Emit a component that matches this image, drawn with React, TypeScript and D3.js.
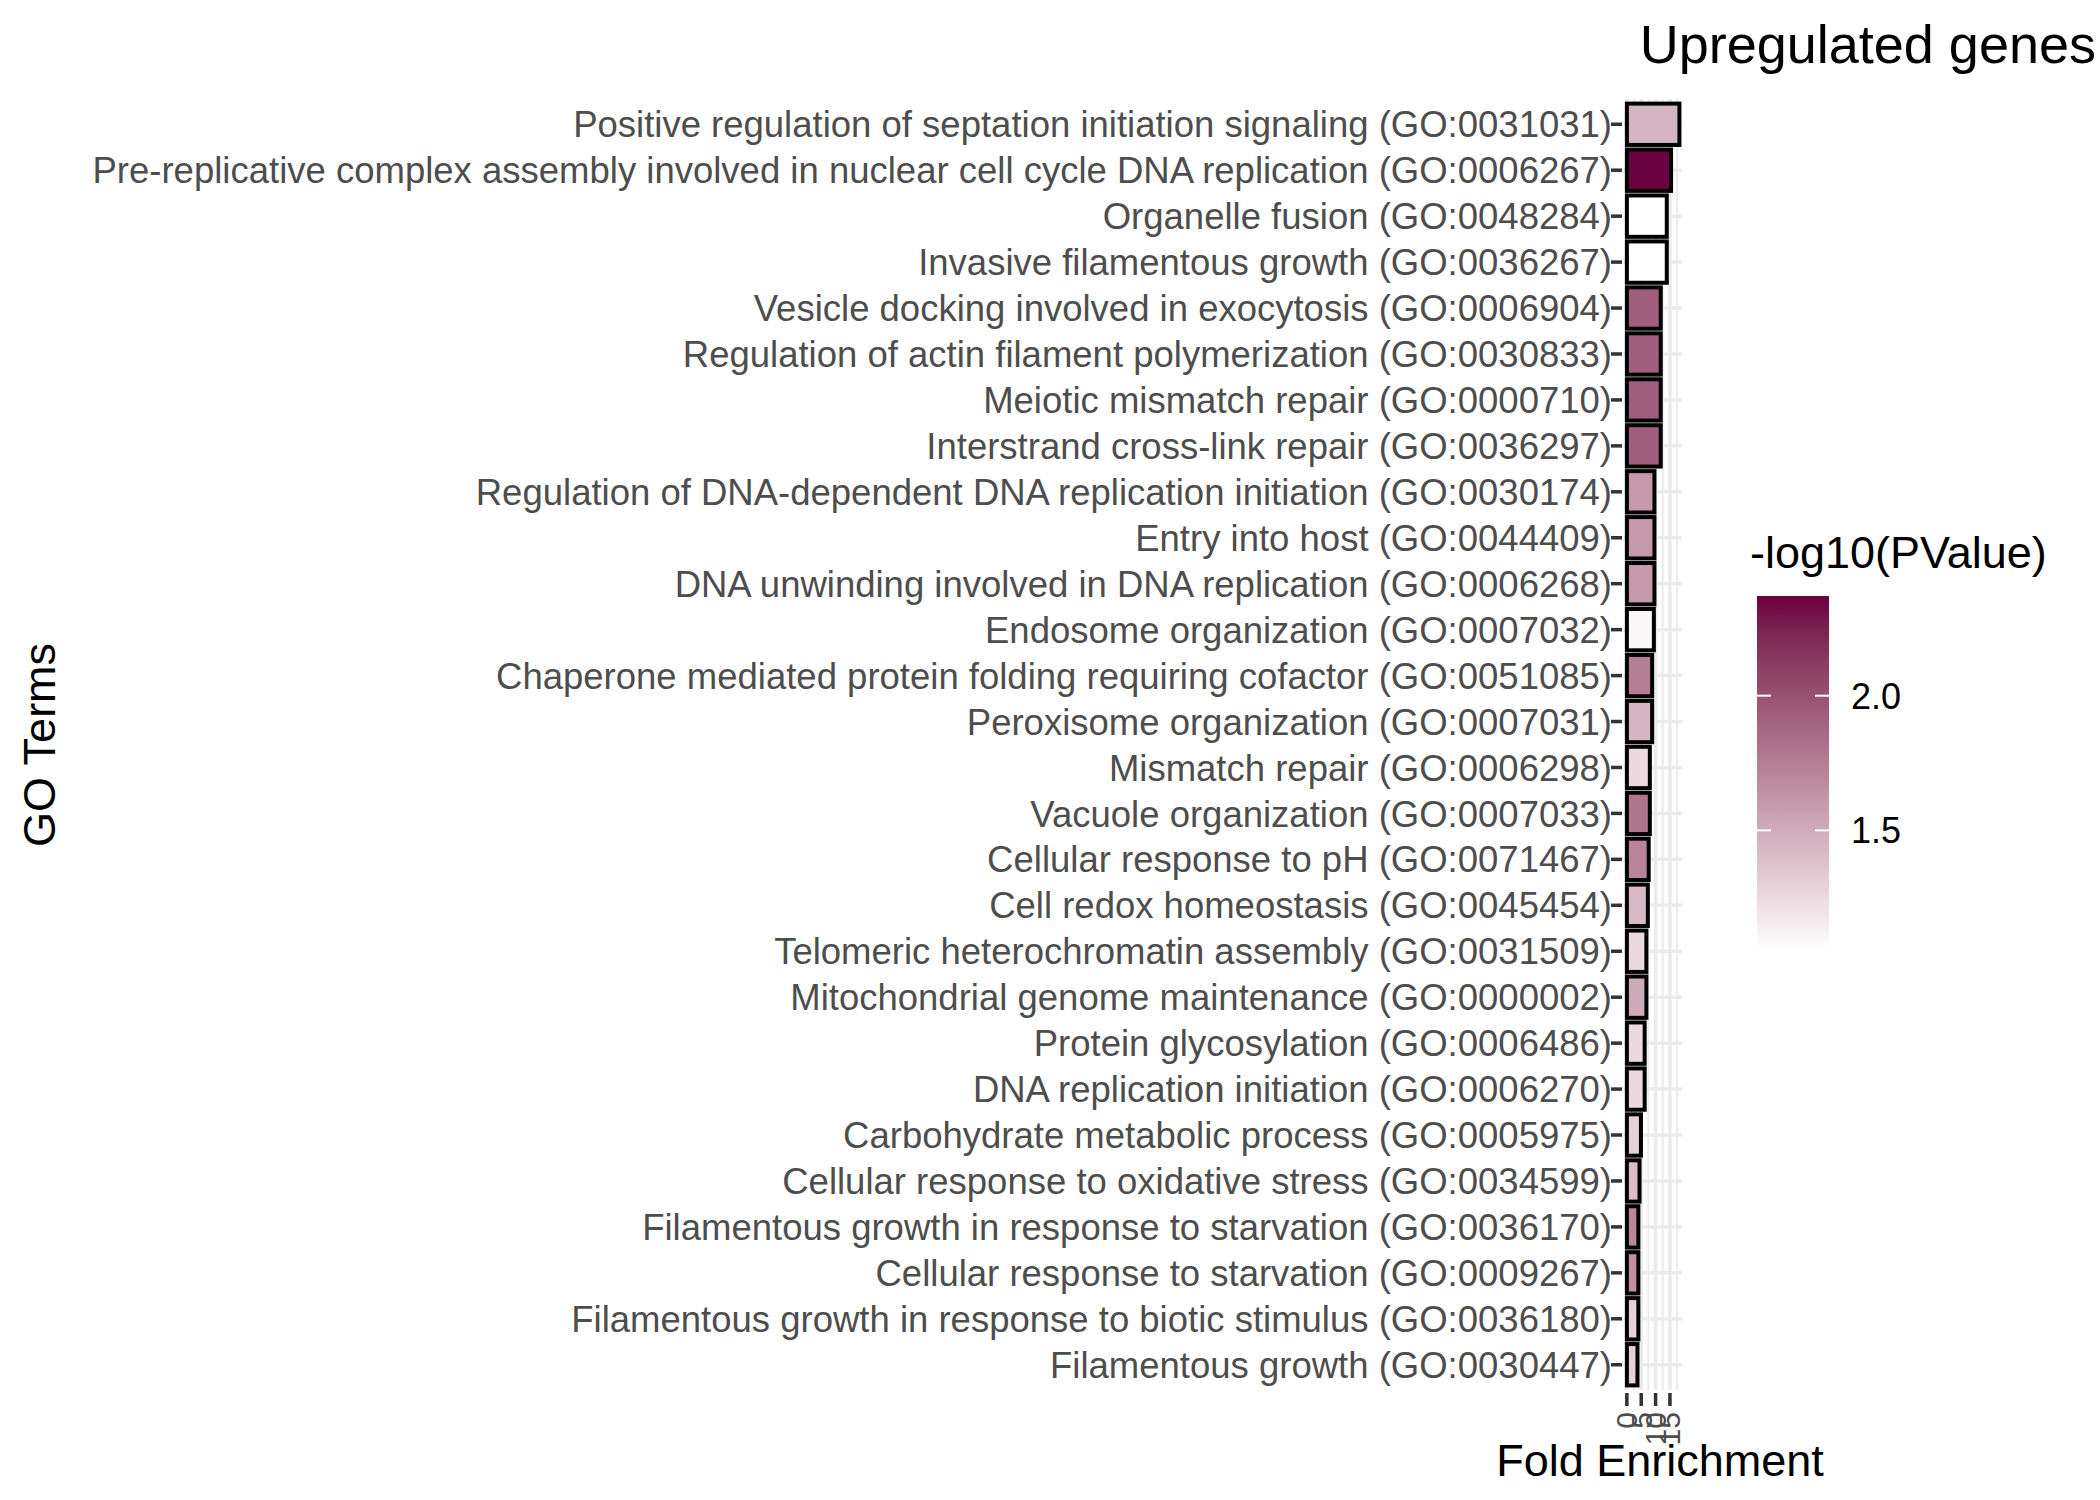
import React from "react";
import * as d3 from "d3";

const terms = [
  "Positive regulation of septation initiation signaling (GO:0031031)",
  "Pre-replicative complex assembly involved in nuclear cell cycle DNA replication (GO:0006267)",
  "Organelle fusion (GO:0048284)",
  "Invasive filamentous growth (GO:0036267)",
  "Vesicle docking involved in exocytosis (GO:0006904)",
  "Regulation of actin filament polymerization (GO:0030833)",
  "Meiotic mismatch repair (GO:0000710)",
  "Interstrand cross-link repair (GO:0036297)",
  "Regulation of DNA-dependent DNA replication initiation (GO:0030174)",
  "Entry into host (GO:0044409)",
  "DNA unwinding involved in DNA replication (GO:0006268)",
  "Endosome organization (GO:0007032)",
  "Chaperone mediated protein folding requiring cofactor (GO:0051085)",
  "Peroxisome organization (GO:0007031)",
  "Mismatch repair (GO:0006298)",
  "Vacuole organization (GO:0007033)",
  "Cellular response to pH (GO:0071467)",
  "Cell redox homeostasis (GO:0045454)",
  "Telomeric heterochromatin assembly (GO:0031509)",
  "Mitochondrial genome maintenance (GO:0000002)",
  "Protein glycosylation (GO:0006486)",
  "DNA replication initiation (GO:0006270)",
  "Carbohydrate metabolic process (GO:0005975)",
  "Cellular response to oxidative stress (GO:0034599)",
  "Filamentous growth in response to starvation (GO:0036170)",
  "Cellular response to starvation (GO:0009267)",
  "Filamentous growth in response to biotic stimulus (GO:0036180)",
  "Filamentous growth (GO:0030447)",
];

const foldEnrichment = [
  18.3, 15.4, 13.9, 13.9, 11.8, 11.8, 11.8, 11.8, 9.6, 9.6, 9.6, 9.4, 8.8, 8.8,
  8.0, 8.0, 7.6, 7.3, 6.8, 6.8, 6.2, 6.2, 4.9, 4.4, 4.0, 4.0, 4.0, 3.7,
];

const negLogP = [
  1.45, 2.37, 1.06, 1.06, 1.93, 1.93, 1.93, 1.93, 1.6, 1.6, 1.6, 1.1, 1.75, 1.45,
  1.25, 1.8, 1.72, 1.42, 1.25, 1.5, 1.25, 1.25, 1.3, 1.4, 1.7, 1.65, 1.3, 1.3,
];

const xTicks = [0, 5, 10, 15];
const legendTicks = [1.5, 2.0];

const font = "Liberation Sans, Arial, sans-serif";

export default function App() {
  const left = 1624, right = 1682, top = 99, bottom = 1390;
  const x = d3.scaleLinear().domain([-1, 19.2]).range([left, right]);
  const y = d3.scaleBand().domain(terms).range([top, bottom]).paddingOuter(0.1).paddingInner(0.1);
  const pMin = 1.056, pMax = 2.37;
  const color = d3.scaleLinear<string>().domain([pMin, pMax]).range(["#ffffff", "#6b0040"]).interpolate(d3.interpolateLab);
  const lgTop = 596, lgBottom = 950, lgX = 1757, lgW = 72;
  const ly = d3.scaleLinear().domain([pMin, pMax]).range([lgBottom, lgTop]);
  const minor = [2.5, 7.5, 12.5, 17.5];

  return (
    <svg width={2100} height={1500} style={{ position: "absolute", left: 0, top: 0 }} fontFamily={font}>
      <defs>
        <linearGradient id="lg" x1="0" y1="1" x2="0" y2="0">
          {d3.range(0, 1.001, 0.1).map((t) => (
            <stop key={t} offset={t} stopColor={color(pMin + t * (pMax - pMin))} />
          ))}
        </linearGradient>
      </defs>
      <rect width={2100} height={1500} fill="#fff" />
      {minor.map((v) => (
        <line key={"m" + v} x1={x(v)} x2={x(v)} y1={top} y2={bottom} stroke="#ebebeb" strokeWidth={2} />
      ))}
      {xTicks.map((v) => (
        <line key={"g" + v} x1={x(v)} x2={x(v)} y1={top} y2={bottom} stroke="#ebebeb" strokeWidth={3.5} />
      ))}
      {terms.map((t) => (
        <line key={"h" + t} x1={left} x2={right} y1={y(t)! + y.bandwidth() / 2} y2={y(t)! + y.bandwidth() / 2} stroke="#ebebeb" strokeWidth={3.5} />
      ))}
      {terms.map((t, i) => (
        <rect key={"b" + t} x={x(0)} y={y(t)!} width={x(foldEnrichment[i]) - x(0)} height={y.bandwidth()}
          fill={color(negLogP[i])} stroke="#000" strokeWidth={4} />
      ))}
      {terms.map((t) => (
        <g key={"l" + t}>
          <line x1={left - 13} x2={left - 2} y1={y(t)! + y.bandwidth() / 2} y2={y(t)! + y.bandwidth() / 2} stroke="#333" strokeWidth={3.5} />
          <text x={left - 12} y={y(t)! + y.bandwidth() / 2} dy="0.36em" textAnchor="end" fontSize={36.5} fill="#4d4d4d">{t}</text>
        </g>
      ))}
      {xTicks.map((v) => (
        <g key={"t" + v}>
          <line x1={x(v)} x2={x(v)} y1={bottom + 3} y2={bottom + 16} stroke="#333" strokeWidth={3.5} />
          <text transform={`translate(${x(v)},${bottom + 22}) rotate(-90)`} dy="0.35em" textAnchor="end" fontSize={30} fill="#4d4d4d">{v}</text>
        </g>
      ))}
      <text x={1660} y={1476} textAnchor="middle" fontSize={45}>Fold Enrichment</text>
      <text transform="translate(55,745) rotate(-90)" textAnchor="middle" fontSize={45}>GO Terms</text>
      <text x={2096} y={63} textAnchor="end" fontSize={54}>Upregulated genes</text>
      <text x={lgX - 7} y={568} fontSize={45}>-log10(PValue)</text>
      <rect x={lgX} y={lgTop} width={lgW} height={lgBottom - lgTop} fill="url(#lg)" />
      {legendTicks.map((v) => (
        <g key={"k" + v}>
          <line x1={lgX} x2={lgX + 14} y1={ly(v)} y2={ly(v)} stroke="#fff" strokeWidth={2} />
          <line x1={lgX + lgW - 14} x2={lgX + lgW} y1={ly(v)} y2={ly(v)} stroke="#fff" strokeWidth={2} />
          <text x={lgX + 94} y={ly(v)} dy="0.36em" fontSize={36}>{v.toFixed(1)}</text>
        </g>
      ))}
    </svg>
  );
}
